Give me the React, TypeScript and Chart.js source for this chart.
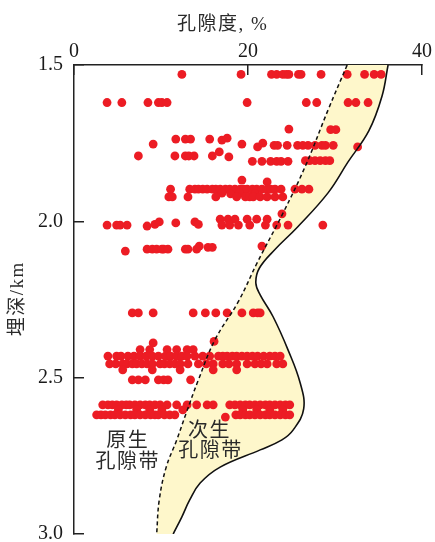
import React, { useEffect, useRef } from 'react';
import Chart from 'chart.js/auto';

// ---------- axes ----------
const porosityTicks = [0, 20, 40];
const depthTicks = [1.5, 2.0, 2.5, 3.0];
const xTitle = '孔隙度, %';
const yTitle = '埋深/km';
const primaryZone = ['原生', '孔隙带'];
const secondaryZone = ['次生', '孔隙带'];

// ---------- boundary curves: [porosity %, depth km] ----------
const dashedBoundary = [
  [31.4, 1.5], [29.2, 1.644], [26.6, 1.823], [24.0, 1.975], [21.1, 2.13], [18.9, 2.256],
  [16.2, 2.379], [14.3, 2.507], [12.9, 2.613], [11.8, 2.7], [10.6, 2.786], [9.8, 2.891], [9.5, 3.0],
];
const solidBoundary = [
  [36.1, 1.5], [35.4, 1.6], [33.9, 1.71], [31.5, 1.81], [29.2, 1.909], [25.7, 2.018], [23.1, 2.09],
  [21.3, 2.15], [20.9, 2.197], [21.4, 2.235], [22.9, 2.306], [24.6, 2.411], [26.0, 2.517],
  [26.4, 2.6], [25.2, 2.667], [23.9, 2.699], [21.4, 2.731], [16.8, 2.786], [14.5, 2.837],
  [13.3, 2.891], [12.4, 2.945], [11.4, 3.0],
];

// ---------- porosity measurements: [porosity %, depth km] ----------
const dotsRow1 = [
  [12.4, 1.53], [19.2, 1.53], [22.7, 1.53], [23.3, 1.53], [24.0, 1.53], [24.4, 1.53], [24.7, 1.53],
  [25.8, 1.53], [26.1, 1.53], [28.4, 1.53], [31.4, 1.53], [33.4, 1.53], [34.5, 1.53], [35.3, 1.53],
];
const dotsRow2 = [
  [3.8, 1.62], [5.5, 1.62], [8.5, 1.62], [9.7, 1.62], [10.1, 1.62], [10.7, 1.62], [19.9, 1.62],
  [26.7, 1.62], [27.9, 1.62], [31.5, 1.62], [32.4, 1.62], [33.8, 1.62],
];
const dotsRow3 = [
  [24.7, 1.705], [29.5, 1.707], [30.1, 1.707], [9.1, 1.753], [11.7, 1.737], [12.8, 1.737],
  [13.4, 1.737], [15.6, 1.737], [17.0, 1.74], [17.6, 1.734], [19.3, 1.753], [21.1, 1.762],
  [21.7, 1.75], [23.0, 1.757], [23.4, 1.757], [24.5, 1.757], [25.7, 1.757], [26.3, 1.757],
  [26.9, 1.757], [27.7, 1.757], [28.5, 1.757], [28.9, 1.757], [29.8, 1.757], [32.6, 1.762],
];
const dotsRow4 = [
  [7.4, 1.791], [11.6, 1.791], [12.8, 1.791], [13.2, 1.791], [13.8, 1.791], [15.9, 1.791],
  [16.7, 1.778], [17.8, 1.794], [20.5, 1.808], [21.6, 1.808], [22.6, 1.808], [23.3, 1.808],
  [23.8, 1.808], [24.6, 1.808], [26.6, 1.806], [27.1, 1.806], [27.7, 1.806], [28.3, 1.806],
  [28.9, 1.806], [29.4, 1.806],
];
const dotsRow5 = [
  [19.3, 1.868], [22.2, 1.874], [11.1, 1.897], [13.3, 1.897], [13.9, 1.897], [14.3, 1.897],
  [14.8, 1.897], [15.3, 1.897], [15.9, 1.897], [16.3, 1.897], [16.8, 1.897], [17.4, 1.897],
  [17.9, 1.897], [18.5, 1.897], [19.1, 1.897], [19.5, 1.897], [19.9, 1.897], [20.5, 1.897],
  [21.0, 1.897], [21.6, 1.897], [22.2, 1.897], [22.6, 1.897], [23.1, 1.897], [23.8, 1.897],
  [25.4, 1.897], [26.2, 1.897], [27.0, 1.897], [17.0, 1.91], [18.0, 1.912], [19.0, 1.91],
  [20.8, 1.912], [10.9, 1.922], [11.3, 1.922], [13.1, 1.922], [16.3, 1.922], [18.7, 1.922],
  [19.7, 1.922], [20.2, 1.922], [20.6, 1.922], [21.4, 1.922], [22.2, 1.922], [23.1, 1.922],
  [24.0, 1.922],
];
const dotsRow6 = [
  [3.8, 2.012], [4.9, 2.012], [5.3, 2.012], [6.1, 2.012], [8.4, 2.015], [9.3, 2.01], [9.8, 2.002],
  [11.7, 2.005], [13.9, 2.002], [14.3, 2.01], [16.8, 1.993], [17.7, 1.993], [18.5, 1.993],
  [19.9, 1.993], [21.0, 1.993], [22.2, 1.993], [23.9, 1.976], [17.0, 2.012], [17.9, 2.012],
  [18.9, 2.012], [20.2, 2.012], [22.0, 2.012], [23.3, 2.012], [24.6, 2.012], [28.6, 2.012],
];
const dotsRow7 = [
  [5.9, 2.095], [8.4, 2.089], [9.0, 2.089], [9.5, 2.089], [10.1, 2.089], [10.3, 2.089],
  [10.8, 2.089], [12.8, 2.089], [13.1, 2.089], [14.1, 2.089], [14.4, 2.079], [15.4, 2.083],
  [15.9, 2.083], [21.6, 2.079],
];
const dotsRow8 = [
  [6.7, 2.293], [7.4, 2.293], [9.1, 2.293], [13.7, 2.293], [15.1, 2.293], [16.3, 2.293],
  [17.6, 2.293], [19.3, 2.293], [20.6, 2.293], [21.1, 2.293], [21.4, 2.293], [9.1, 2.389],
  [16.1, 2.384],
];
const dotsRow9 = [
  [7.6, 2.41], [8.7, 2.41], [10.7, 2.41], [11.8, 2.41], [13.0, 2.41], [13.7, 2.41],
  [3.9, 2.431], [4.9, 2.431], [5.4, 2.431], [6.2, 2.431], [6.9, 2.431], [7.6, 2.431],
  [8.3, 2.431], [9.0, 2.431], [9.7, 2.431], [10.5, 2.431], [11.1, 2.431], [11.8, 2.431],
  [12.4, 2.431], [13.0, 2.431], [13.9, 2.431], [14.8, 2.431], [15.6, 2.431], [16.6, 2.431],
  [17.1, 2.431], [17.6, 2.431], [18.2, 2.431], [18.7, 2.431], [19.3, 2.431], [19.9, 2.431],
  [20.5, 2.431], [21.1, 2.431], [21.8, 2.431], [22.5, 2.431], [23.1, 2.431], [23.7, 2.431],
  [4.1, 2.456], [4.8, 2.456], [5.6, 2.456], [6.1, 2.456], [6.7, 2.456], [7.2, 2.456],
  [7.8, 2.456], [8.4, 2.456], [9.0, 2.456], [9.9, 2.456], [10.4, 2.456], [11.0, 2.456],
  [11.6, 2.456], [12.2, 2.456], [13.1, 2.456], [14.3, 2.456], [15.2, 2.456], [16.0, 2.456],
  [17.1, 2.456], [17.8, 2.456], [18.7, 2.456], [19.9, 2.456], [20.8, 2.456], [21.5, 2.456],
  [22.2, 2.456], [23.3, 2.456], [24.0, 2.456],
  [5.6, 2.475], [9.0, 2.475], [12.2, 2.475], [16.0, 2.475], [18.7, 2.475],
];
const dotsRow10 = [
  [6.7, 2.507], [7.4, 2.507], [8.2, 2.507], [9.7, 2.507], [10.3, 2.507], [10.8, 2.507], [13.4, 2.507],
];
const dotsRow11 = [
  [3.3, 2.587], [3.9, 2.587], [4.4, 2.587], [4.9, 2.587], [5.5, 2.587], [6.0, 2.587],
  [6.4, 2.587], [7.0, 2.587], [7.6, 2.587], [8.2, 2.587], [8.7, 2.587], [9.3, 2.587],
  [9.9, 2.587], [10.7, 2.587], [11.8, 2.587], [13.0, 2.587], [14.1, 2.587], [15.3, 2.587],
  [16.0, 2.587], [17.9, 2.587], [18.5, 2.587], [19.1, 2.587], [19.7, 2.587], [20.2, 2.587],
  [20.8, 2.587], [21.4, 2.587], [22.0, 2.587], [22.5, 2.587], [23.1, 2.587], [23.7, 2.587],
  [24.3, 2.587], [24.8, 2.587],
  [5.1, 2.603], [7.2, 2.603], [8.7, 2.603], [10.1, 2.603], [12.5, 2.603],
  [19.4, 2.603], [21.0, 2.603], [22.5, 2.603], [24.0, 2.603],
  [2.6, 2.619], [3.1, 2.619], [3.6, 2.619], [4.2, 2.619], [4.7, 2.619], [5.3, 2.619],
  [5.9, 2.619], [6.5, 2.619], [7.0, 2.619], [7.6, 2.619], [8.2, 2.619], [8.8, 2.619],
  [9.3, 2.619], [9.7, 2.619], [10.4, 2.619], [11.0, 2.619], [11.6, 2.619], [17.4, 2.626],
  [18.6, 2.619], [19.1, 2.619], [19.7, 2.619], [20.2, 2.619], [20.8, 2.619], [21.4, 2.619],
  [22.0, 2.619], [22.5, 2.619], [23.1, 2.619], [23.7, 2.619], [24.3, 2.619], [24.8, 2.619],
];

const allDots = [
  ...dotsRow1, ...dotsRow2, ...dotsRow3, ...dotsRow4, ...dotsRow5, ...dotsRow6,
  ...dotsRow7, ...dotsRow8, ...dotsRow9, ...dotsRow10, ...dotsRow11,
];

const toXY = (arr: number[][]) => arr.map(([x, y]) => ({ x, y }));

const SERIF = "'Liberation Serif', 'Noto Sans CJK SC', serif";
const TEXT = '#2a2a2a';
const AXIS = '#222222';

const textPlugin = {
  id: 'zoneTexts',
  afterDatasetsDraw(chart: any) {
    const { ctx, scales, chartArea } = chart;
    const xs = scales.x;
    const ys = scales.y;
    ctx.save();
    ctx.fillStyle = TEXT;
    ctx.textAlign = 'center';
    ctx.textBaseline = 'middle';
    // zone labels, anchored in data coordinates
    ctx.font = `20px ${SERIF}`;
    ctx.letterSpacing = '1.5px';
    const place = (t: string, px: number, dy: number) =>
      ctx.fillText(t, xs.getPixelForValue(px) + 0.75, ys.getPixelForValue(dy));
    place(primaryZone[0], 6.1, 2.706);
    place(primaryZone[1], 6.1, 2.773);
    place(secondaryZone[0], 15.5, 2.674);
    place(secondaryZone[1], 15.6, 2.738);
    // axis titles
    ctx.font = `19px ${SERIF}`;
    ctx.letterSpacing = '1.5px';
    ctx.fillText(xTitle, xs.getPixelForValue(17) + 0.75, 25);
    ctx.translate(18, (chartArea.top + chartArea.bottom) / 2);
    ctx.rotate(-Math.PI / 2);
    ctx.fillText(yTitle, 0.75, 0);
    ctx.restore();
  },
};

export default function App() {
  const ref = useRef<HTMLCanvasElement | null>(null);
  useEffect(() => {
    document.body.style.margin = '0';
    const canvas = ref.current;
    if (!canvas) return;
    const n = dashedBoundary.length;
    const m = solidBoundary.length;
    const polygon = [
      ...dashedBoundary,
      dashedBoundary[n - 1],
      solidBoundary[m - 1],
      ...solidBoundary.slice().reverse(),
    ];
    const chart = new Chart(canvas, {
      type: 'scatter',
      data: {
        datasets: [
          {
            label: 'dashed',
            data: toXY(dashedBoundary),
            showLine: true,
            borderColor: '#111',
            borderWidth: 1.5,
            borderDash: [4, 3],
            pointRadius: 0,
            tension: 0.4,
            fill: false,
          },
          {
            label: 'solid',
            data: toXY(solidBoundary),
            showLine: true,
            borderColor: '#111',
            borderWidth: 1.6,
            pointRadius: 0,
            tension: 0.4,
            fill: false,
          },
          {
            label: 'porosity',
            data: toXY(allDots),
            pointRadius: 4.4,
            pointBorderWidth: 0,
            pointBackgroundColor: '#EC1C24',
            backgroundColor: '#EC1C24',
            showLine: false,
          },
          {
            label: 'zone',
            data: toXY(polygon),
            showLine: true,
            borderColor: 'rgba(0,0,0,0)',
            borderWidth: 0,
            pointRadius: 0,
            tension: 0.4,
            fill: 'shape',
            backgroundColor: '#FEF7CB',
          },
        ],
      },
      options: {
        animation: false,
        responsive: false,
        devicePixelRatio: 1,
        events: [],
        layout: { padding: { top: 0, left: 0, right: 13, bottom: 8 } },
        plugins: { legend: { display: false }, tooltip: { enabled: false } },
        scales: {
          x: {
            type: 'linear',
            position: 'top',
            min: 0,
            max: 40,
            afterBuildTicks: (s: any) => {
              s.ticks = porosityTicks.map((v) => ({ value: v }));
            },
            afterFit: (s: any) => {
              s.height = 65;
              s.paddingLeft = 0;
              s.paddingRight = 0;
            },
            ticks: {
              font: { family: SERIF, size: 20 },
              color: '#1a1a1a',
              padding: 11,
              maxRotation: 0,
              callback: (v: any) => String(v),
            },
            grid: {
              drawOnChartArea: false,
              drawTicks: true,
              tickLength: -10,
              color: AXIS,
              lineWidth: 1.5,
            },
            border: { display: true, color: AXIS, width: 1.5 },
          },
          y: {
            type: 'linear',
            position: 'left',
            reverse: true,
            min: 1.5,
            max: 3.0,
            afterBuildTicks: (s: any) => {
              s.ticks = depthTicks.map((v) => ({ value: v }));
            },
            afterFit: (s: any) => {
              s.width = 74;
              s.paddingTop = 0;
              s.paddingBottom = 0;
            },
            ticks: {
              font: { family: SERIF, size: 20 },
              color: '#1a1a1a',
              padding: 21,
              callback: (v: any) => Number(v).toFixed(1),
            },
            grid: {
              drawOnChartArea: false,
              drawTicks: true,
              tickLength: -10,
              color: AXIS,
              lineWidth: 1.5,
            },
            border: { display: true, color: AXIS, width: 1.5 },
          },
        },
      },
      plugins: [textPlugin],
    } as any);
    return () => chart.destroy();
  }, []);
  return (
    <canvas
      ref={ref}
      width={435}
      height={542}
      style={{ display: 'block', width: 435, height: 542 }}
    />
  );
}
